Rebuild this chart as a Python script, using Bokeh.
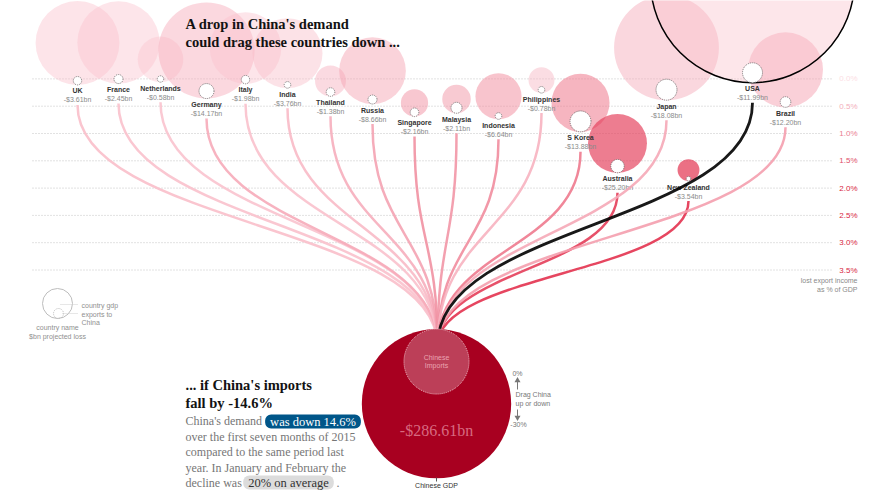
import math
from bokeh.plotting import figure
from bokeh.models import Range1d, Label
from bokeh.embed import file_html
from bokeh.resources import INLINE
from bokeh.core.properties import value

# ---------------- data ----------------
countries = ["UK", "France", "Netherlands", "Germany", "Italy", "India", "Thailand", "Russia",
             "Singapore", "Malaysia", "Indonesia", "Philippines", "S Korea", "Australia",
             "Japan", "New Zealand", "USA", "Brazil"]
loss_bn = [3.61, 2.45, 0.58, 14.17, 1.98, 3.76, 1.38, 8.66, 2.16, 2.11, 6.64, 0.78,
           13.88, 25.20, 18.08, 3.54, 11.99, 12.20]
loss_pct_gdp = [0.11, 0.085, 0.06, 0.36, 0.09, 0.17, 0.32, 0.46, 0.69, 0.63, 0.74, 0.26,
                0.97, 1.72, 0.39, 1.87, 0.07, 0.52]
gdp_tn = [2.94, 2.83, 0.87, 3.87, 2.14, 2.05, 0.40, 1.86, 0.31, 0.34, 0.89, 0.28,
          1.41, 1.45, 4.60, 0.20, 17.42, 2.35]
exports_to_china_bn = [29.5, 33.9, 17.1, 94.0, 29.5, 18.2, 30.9, 33.9, 30.9, 50.6, 18.2, 18.2,
                       184.0, 75.0, 184.0, 8.8, 167.0, 47.0]
selected_country = "USA"

pct_ticks = [0.0, 0.5, 1.0, 1.5, 2.0, 2.5, 3.0, 3.5]
pct_tick_labels = ["0.0%", "0.5%", "1.0%", "1.5%", "2.0%", "2.5%", "3.0%", "3.5%"]

china_gdp_tn = 10.36
china_imports_bn = 1963.1
china_import_change_pct = -14.6

# ---------------- layout ----------------
slot_x = [77, 118, 160, 206, 245, 287, 330, 372, 414, 456, 498, 541, 580, 617, 666, 688, 752, 785]
W, H = 884, 491
ZERO_Y = 78.4          # screen y of 0 %
PX_PER_PCT = 54.6      # pixels per 1 % of GDP
K_COUNTRY = 24.45      # px per sqrt(trillion $)
K_CHINA = 23.2
CHINA_X, CHINA_TOP = 436, 328.5
LINK_END_X, LINK_END_Y = 437, 345


def Y(sy):
    return (sy - ZERO_Y) / PX_PER_PCT


def py(px):
    return px / PX_PER_PCT


def ramp(t, c0, c1):
    t = max(0.0, min(1.0, t))
    return "#%02x%02x%02x" % tuple(int(round(a + (b - a) * t)) for a, b in zip(c0, c1))


C_LIGHT = (250, 200, 210)
C_DARK = (225, 40, 70)
SANS = value("Liberation Sans")
SERIF = value("Liberation Serif")

p = figure(width=W, height=H, x_range=Range1d(0, W), y_range=Range1d(Y(H), Y(0)),
           x_axis_type=None, y_axis_type=None, toolbar_location=None,
           output_backend="svg", min_border=0)
p.outline_line_color = None
p.background_fill_color = "white"

# grid lines + % labels
p.segment(x0=[32] * len(pct_ticks), x1=[833] * len(pct_ticks), y0=pct_ticks, y1=pct_ticks,
          line_color="#c4c4c4", line_width=1, line_dash="1 2")
tick_colors = [ramp(v / 2.0, (252, 222, 228), (215, 30, 65)) for v in pct_ticks]
p.text(x=[857] * len(pct_ticks), y=pct_ticks, text=pct_tick_labels, text_color=tick_colors,
       text_font=SANS, text_font_size="8px", text_align="right", text_baseline="middle")
p.text(x=[857, 857], y=[Y(280), Y(289)], text=["lost export income", "as % of GDP"],
       text_color="#8a8a8a", text_font=SANS, text_font_size="7px",
       text_align="right", text_baseline="middle")

# geometry per country
n = len(countries)
r_gdp = [K_COUNTRY * math.sqrt(g) for g in gdp_tn]
r_exp = [K_COUNTRY * math.sqrt(e / 1000.0) for e in exports_to_china_bn]
t_col = [v / 2.0 for v in loss_pct_gdp]
fill_cols = [ramp(t, C_LIGHT, C_DARK) for t in t_col]
fill_alpha = [0.40 + 0.32 * min(1, t) for t in t_col]
sel = [i for i in range(n) if countries[i] == selected_country]
rest = [i for i in range(n) if countries[i] != selected_country]

# big GDP circles
p.circle(x=[slot_x[i] for i in rest],
         y=[loss_pct_gdp[i] - py(r_gdp[i]) for i in rest],
         radius=[r_gdp[i] for i in rest],
         fill_color=[fill_cols[i] for i in rest], fill_alpha=[fill_alpha[i] for i in rest],
         line_color=None)
p.circle(x=[slot_x[i] for i in sel],
         y=[loss_pct_gdp[i] - py(r_gdp[i]) for i in sel],
         radius=[r_gdp[i] for i in sel],
         fill_color=[fill_cols[i] for i in sel], fill_alpha=[fill_alpha[i] for i in sel],
         line_color="black", line_width=1.5)

# labels
p.text(x=slot_x, y=[v + py(6) for v in loss_pct_gdp], text=countries, text_color="#333333",
       text_font=SANS, text_font_size="7px", text_font_style="bold",
       text_align="center", text_baseline="middle")
p.text(x=slot_x, y=[v + py(15) for v in loss_pct_gdp], text=["-$%.2fbn" % v for v in loss_bn],
       text_color="#8a8a8a", text_font=SANS, text_font_size="7px",
       text_align="center", text_baseline="middle")


# links to China
def links(idx, colors, width):
    y0 = [loss_pct_gdp[i] + py(20) for i in idx]
    y1 = Y(LINK_END_Y)
    ym = [(a + y1) / 2 for a in y0]
    p.bezier(x0=[slot_x[i] for i in idx], y0=y0,
             x1=[LINK_END_X] * len(idx), y1=[y1] * len(idx),
             cx0=[slot_x[i] for i in idx], cy0=ym,
             cx1=[LINK_END_X] * len(idx), cy1=ym,
             line_color=colors, line_width=width, line_alpha=0.9)


links(rest, [fill_cols[i] for i in rest], 2.5)
links(sel, ["black"] * len(sel), 2.8)

# exports circles
p.circle(x=slot_x, y=[loss_pct_gdp[i] - py(r_exp[i]) for i in range(n)], radius=r_exp,
         fill_color="white", line_color="#777777", line_width=1, line_dash="1 1")

# China
r_china = K_CHINA * math.sqrt(china_gdp_tn)
r_imp = K_CHINA * math.sqrt(china_imports_bn / 1000.0)
p.circle(x=[CHINA_X], y=[Y(CHINA_TOP) + py(r_china)], radius=[r_china],
         fill_color="#a80020", line_color=None)
p.circle(x=[CHINA_X], y=[Y(CHINA_TOP) + py(r_imp)], radius=[r_imp],
         fill_color="#c04a63", fill_alpha=0.85, line_color="#f3c6ce", line_dash="1 1", line_width=1)
p.text(x=[CHINA_X, CHINA_X], y=[Y(356.5), Y(364.5)], text=["Chinese", "Imports"],
       text_color="#eaa3b1", text_font=SANS, text_font_size="7px",
       text_align="center", text_baseline="middle")
china_loss = china_imports_bn * abs(china_import_change_pct) / 100.0
p.text(x=[CHINA_X], y=[Y(430)], text=["-$%.2fbn" % china_loss], text_color="#d76a80",
       text_font=SERIF, text_font_size="16px", text_align="center", text_baseline="middle")
p.segment(x0=[CHINA_X], x1=[CHINA_X], y0=[Y(477)], y1=[Y(481)], line_color="#555555", line_width=1)
p.text(x=[CHINA_X], y=[Y(485)], text=["Chinese GDP"], text_color="#333333",
       text_font=SANS, text_font_size="7px", text_align="center", text_baseline="middle")

# drag hint
p.segment(x0=[517, 517], x1=[517, 517], y0=[Y(380), Y(409)], y1=[Y(389), Y(417)],
          line_color="#777777", line_width=1)
p.scatter(x=[517], y=[Y(380)], marker="triangle", size=6, fill_color="#777777", line_color=None)
p.scatter(x=[517], y=[Y(417)], marker="inverted_triangle", size=6, fill_color="#777777", line_color=None)
p.text(x=[517, 518], y=[Y(373), Y(424)], text=["0%", "-30%"], text_color="#777777",
       text_font=SANS, text_font_size="7px", text_align="center", text_baseline="middle")
p.text(x=[515, 515], y=[Y(394), Y(403)], text=["Drag China", "up or down"], text_color="#777777",
       text_font=SANS, text_font_size="7px", text_align="left", text_baseline="middle")

# legend
p.circle(x=[57], y=[Y(303)], radius=[15], fill_color=None, line_color="#bdbdbd", line_width=1)
p.circle(x=[58], y=[Y(313)], radius=[5], fill_color=None, line_color="#bdbdbd",
         line_width=1, line_dash="1 1")
p.segment(x0=[60, 62], x1=[78, 78], y0=[Y(304), Y(313)], y1=[Y(304), Y(313)],
          line_color="#cfcfcf", line_width=1, line_dash="1 1")
p.text(x=[81, 81, 81], y=[Y(305), Y(314), Y(322)], text=["country gdp", "exports to", "China"],
       text_color="#8f8f8f", text_font=SANS, text_font_size="7px",
       text_align="left", text_baseline="middle")
p.text(x=[57, 57], y=[Y(327), Y(336)], text=["country name", "$bn projected loss"],
       text_color="#8f8f8f", text_font=SANS, text_font_size="7px",
       text_align="center", text_baseline="middle")

# headings
p.text(x=[185, 185], y=[Y(23), Y(41.5)],
       text=["A drop in China's demand", "could drag these countries down ..."],
       text_color="#121212", text_font=SERIF, text_font_size="14.5px", text_font_style="bold",
       text_align="left", text_baseline="middle")
p.text(x=[185, 185], y=[Y(384), Y(402)],
       text=["... if China's imports", "fall by %.1f%%" % china_import_change_pct],
       text_color="#121212", text_font=SERIF, text_font_size="14.5px", text_font_style="bold",
       text_align="left", text_baseline="middle")

para_y = [420, 436, 451.5, 467, 482]
p.text(x=[185] * 5, y=[Y(v) for v in para_y],
       text=["China's demand", "over the first seven months of 2015",
             "compared to the same period last", "year. In January and February the",
             "decline was"],
       text_color="#767676", text_font=SERIF, text_font_size="12px",
       text_align="left", text_baseline="middle")
p.text(x=[336], y=[Y(482)], text=["."], text_color="#767676", text_font=SERIF,
       text_font_size="12px", text_align="left", text_baseline="middle")

p.add_layout(Label(x=312.5, y=Y(421), text="was down %.1f%%" % abs(china_import_change_pct),
                   text_align="center", text_baseline="middle", text_color="white",
                   text_font="Liberation Serif", text_font_size="12.5px",
                   background_fill_color="#005689", border_radius=6, padding=(5, 0)))
p.add_layout(Label(x=288, y=Y(482), text="20% on average",
                   text_align="center", text_baseline="middle", text_color="#333333",
                   text_font="Liberation Serif", text_font_size="12.5px",
                   background_fill_color="#dcdcdc", border_radius=6, padding=(5, 0)))

open("out.html", "w").write(file_html(p, INLINE))
